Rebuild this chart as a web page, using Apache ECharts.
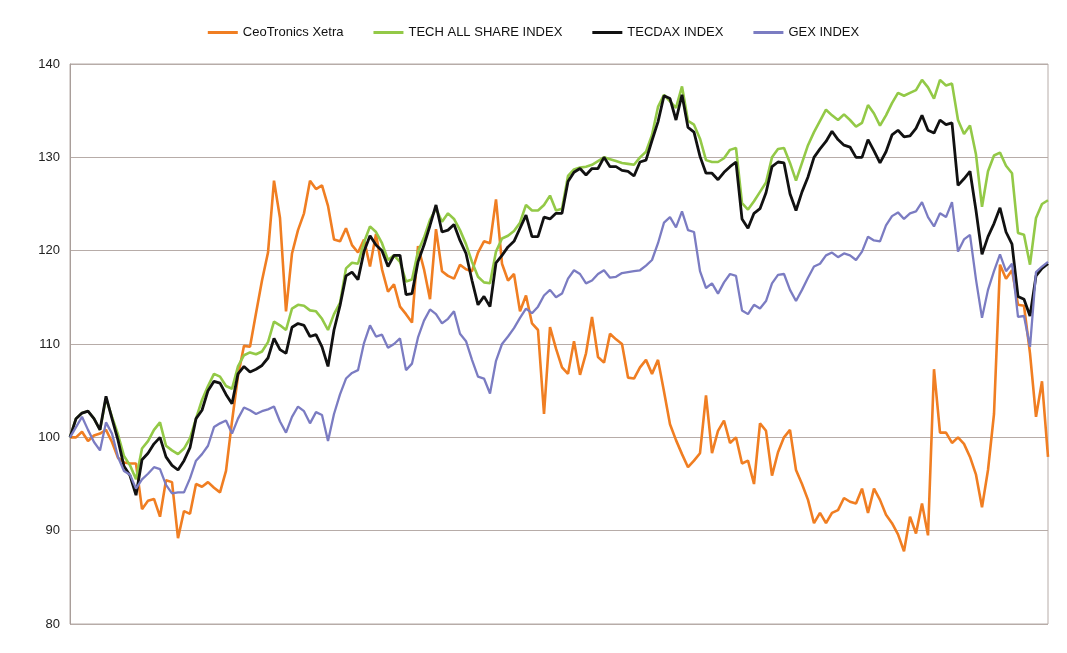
<!DOCTYPE html>
<html>
<head>
<meta charset="utf-8">
<title>CeoTronics vs. Indizes</title>
<script src="https://cdn.jsdelivr.net/npm/echarts@6/dist/echarts.min.js"></script>
<style>
html, body { margin: 0; padding: 0; background: #fff; }
#chart { width: 1067px; height: 653px; }
</style>
</head>
<body>
<div id="chart"></div>
<script>
// series names (legend order)
var names = ['CeoTronics Xetra', 'TECH ALL SHARE INDEX', 'TECDAX INDEX', 'GEX INDEX'];
var colors = ['#f07e22', '#93c947', '#111111', '#7b7cc2'];

// y axis ticks
var yTicks = [80, 90, 100, 110, 120, 130, 140];

// values, indexed to 100 at start
var ceotronics = [100, 100, 100.6, 99.6, 100.2, 100.4, 100.8, 99.5, 97.8, 97.3,
  97.2, 97.2, 92.3, 93.2, 93.4, 91.5, 95.4, 95.2, 89.2, 92.1,
  91.8, 95, 94.7, 95.2, 94.6, 94.1, 96.4, 101.7, 106.6, 109.8,
  109.7, 113.3, 116.8, 119.8, 127.5, 123.5, 113.5, 119.7, 122.2, 124,
  127.5, 126.6, 127, 124.8, 121.2, 121, 122.4, 120.6, 119.8, 121.2,
  118.3, 121.8, 118, 115.6, 116.4, 114, 113.2, 112.3, 120.5, 118,
  114.8, 122.3, 117.8, 117.3, 117, 118.5, 118, 117.8, 119.8, 121,
  120.8, 125.5, 118.6, 116.8, 117.5, 113.5, 115.2, 112.2, 111.5, 102.5,
  111.8, 109.5, 107.5, 106.8, 110.3, 106.7, 109, 112.9, 108.6, 108,
  111.1, 110.5, 110, 106.4, 106.3, 107.5, 108.3, 106.8, 108.3, 104.9,
  101.4, 99.7, 98.2, 96.8, 97.5, 98.3, 104.5, 98.3, 100.7, 101.8,
  99.4, 100, 97.2, 97.5, 95, 101.5, 100.7, 95.9, 98.4, 100,
  100.8, 96.5, 95, 93.3, 90.8, 91.9, 90.8, 91.9, 92.2, 93.5,
  93.1, 92.9, 94.5, 91.9, 94.5, 93.3, 91.7, 90.8, 89.6, 87.8,
  91.5, 89.7, 92.9, 89.5, 107.3, 100.5, 100.5, 99.4, 100, 99.3,
  97.9, 96, 92.5, 96.5, 102.5, 118.5, 117, 117.9, 114.2, 114.1,
  109, 102.2, 106, 97.9];

var techAllShare = [100, 102, 102.6, 102.8, 102, 100.8, 104.2, 102.2, 100.3, 98,
  97, 95.5, 98.8, 99.6, 100.8, 101.6, 99.1, 98.6, 98.2, 98.8,
  99.9, 102, 104, 105.5, 106.8, 106.5, 105.5, 105.2, 107.6, 108.8,
  109.1, 108.9, 109.2, 110.2, 112.4, 112, 111.5, 113.8, 114.2, 114.1,
  113.6, 113.5, 112.7, 111.5, 113.2, 114.4, 118.1, 118.7, 118.6, 120.9,
  122.6, 122, 120.8, 119, 119.5, 118.8, 116.7, 116.9, 119.9, 121.4,
  123.3, 124.5, 123.1, 124, 123.4, 122.2, 120.7, 118.8, 117.2, 116.6,
  116.5, 119.9, 121.3, 121.6, 122.1, 123, 124.9, 124.3, 124.3, 124.9,
  125.9, 124.3, 124.5, 128, 128.7, 128.9, 129, 129.2, 129.6, 130,
  129.8, 129.6, 129.4, 129.3, 129.2, 130, 130.6, 132.4, 135.4, 136.7,
  136, 135.3, 137.6, 133.9, 133.5, 132, 129.7, 129.5, 129.5, 129.9,
  130.8, 131, 125.1, 124.4, 125.3, 126.3, 127.3, 130, 130.9, 131,
  129.4, 127.5, 129.4, 131.3, 132.7, 133.9, 135.1, 134.5, 134, 134.6,
  134, 133.3, 133.7, 135.6, 134.7, 133.4, 134.5, 135.8, 136.9, 136.6,
  136.9, 137.2, 138.3, 137.5, 136.3, 138.3, 137.7, 137.9, 134, 132.5,
  133.4, 130.3, 124.7, 128.5, 130.2, 130.5, 129.1, 128.3, 121.9, 121.7,
  118.5, 123.5, 125, 125.4];

var tecdax = [100, 102, 102.6, 102.8, 102, 100.8, 104.4, 102, 99.7, 96.9,
  95.9, 93.8, 97.6, 98.3, 99.3, 100, 97.9, 97, 96.5, 97.5,
  98.9, 102, 102.9, 105, 106, 105.8, 104.6, 103.6, 106.8, 107.6,
  107, 107.3, 107.7, 108.5, 110.6, 109.4, 109, 111.8, 112.2, 112,
  110.8, 111, 109.7, 107.6, 111.5, 114.1, 117.3, 117.7, 116.9, 119.9,
  121.6, 120.6, 120, 118.3, 119.5, 119.5, 115.3, 115.4, 118.8, 120.6,
  122.7, 124.9, 122, 122.2, 122.8, 121.1, 119.7, 116.8, 114.2, 115.1,
  114, 118.7, 119.5, 120.4, 121, 122.4, 123.8, 121.5, 121.5, 123.6,
  123.4, 124, 124, 127.4, 128.4, 128.8, 128.1, 128.8, 128.8, 130,
  129, 129, 128.6, 128.5, 128, 129.5, 129.7, 131.8, 133.8, 136.6,
  136.3, 134, 136.7, 133.2, 132.7, 130.1, 128.3, 128.3, 127.6, 128.4,
  129, 129.5, 123.4, 122.4, 124, 124.5, 126.2, 129, 129.5, 129.4,
  126.1, 124.3, 126.3, 127.9, 130, 130.9, 131.7, 132.8, 131.9, 131.3,
  131.1, 130, 130, 131.9, 130.7, 129.4, 130.6, 132.4, 132.9, 132.2,
  132.3, 133.1, 134.5, 132.9, 132.6, 134, 133.5, 133.7, 127, 127.7,
  128.5, 124.3, 119.6, 121.5, 122.9, 124.6, 122, 120.7, 115.1, 114.8,
  113, 117.3, 118.1, 118.6];

var gex = [100, 101.1, 102.2, 100.8, 99.5, 98.6, 101.6, 100.4, 97.9, 96.4,
  96, 94.5, 95.5, 96.1, 96.8, 96.6, 94.9, 94, 94.1, 94.1,
  95.6, 97.5, 98.2, 99.1, 101.1, 101.5, 101.8, 100.4, 102, 103.2,
  102.9, 102.5, 102.8, 103, 103.3, 101.7, 100.5, 102.2, 103.3, 102.8,
  101.5, 102.7, 102.4, 99.6, 102.5, 104.6, 106.3, 106.9, 107.2, 110.1,
  112, 110.8, 111, 109.6, 110, 110.6, 107.2, 107.9, 110.7, 112.5,
  113.7, 113.2, 112.2, 112.7, 113.5, 111.1, 110.3, 108.3, 106.5, 106.3,
  104.7, 108.2, 110, 110.8, 111.7, 112.8, 113.8, 113.3, 114, 115.2,
  115.8, 115, 115.4, 117, 117.9, 117.5, 116.5, 116.8, 117.5, 117.9,
  117.1, 117.2, 117.6, 117.7, 117.8, 117.9, 118.4, 119, 120.8, 123,
  123.6, 122.5, 124.2, 122.2, 122, 117.8, 116, 116.5, 115.4, 116.6,
  117.5, 117.3, 113.6, 113.2, 114.2, 113.8, 114.6, 116.5, 117.4, 117.5,
  115.8, 114.6, 115.8, 117.1, 118.3, 118.6, 119.5, 119.8, 119.3, 119.7,
  119.5, 119, 119.9, 121.5, 121.1, 121, 122.7, 123.7, 124.1, 123.4,
  124, 124.2, 125.2, 123.6, 122.6, 124, 123.6, 125.2, 119.9, 121.2,
  121.7, 116.9, 112.8, 115.8, 117.8, 119.6, 117.8, 118.6, 112.9, 113,
  109.7, 117.7, 118.3, 118.8];

// trading days (no labels shown on the x axis)
var days = [];
for (var i = 0; i < ceotronics.length; i++) {
  days.push(i + 1);
}

var dom = document.getElementById('chart');
var myChart = echarts.init(dom);

var seriesData = [ceotronics, techAllShare, tecdax, gex];
var widths = [2.6, 2.6, 2.8, 2.3];

var series = [];
for (var s = 0; s < names.length; s++) {
  series.push({
    name: names[s],
    type: 'line',
    data: seriesData[s],
    showSymbol: false,
    symbol: 'none',
    animation: false,
    lineStyle: { color: colors[s], width: widths[s] },
    itemStyle: { color: colors[s] }
  });
}

var option = {
  backgroundColor: '#ffffff',
  color: colors,
  legend: {
    data: names,
    top: 21,
    left: 'center',
    icon: 'rect',
    itemWidth: 30,
    itemHeight: 3,
    itemGap: 30,
    textStyle: {
      fontFamily: '"Liberation Sans Narrow", "Liberation Sans", Arial, sans-serif',
      fontSize: 13,
      color: '#111'
    }
  },
  grid: {
    left: 70,
    right: 19,
    top: 64,
    bottom: 29,
    show: true,
    borderColor: '#b7aca8',
    borderWidth: 1,
    backgroundColor: '#ffffff'
  },
  xAxis: {
    type: 'category',
    data: days,
    boundaryGap: false,
    axisLine: { show: false },
    axisTick: { show: false },
    axisLabel: { show: false },
    splitLine: { show: false }
  },
  yAxis: {
    type: 'value',
    min: yTicks[0],
    max: yTicks[yTicks.length - 1],
    interval: 10,
    axisLine: { show: true, lineStyle: { color: '#a99e9a', width: 1 } },
    axisTick: { show: false },
    axisLabel: {
      margin: 10,
      fontFamily: '"Liberation Sans", Arial, sans-serif',
      fontSize: 13,
      color: '#222'
    },
    splitLine: { show: true, lineStyle: { color: '#b7aca8', width: 1 } }
  },
  series: series
};

myChart.setOption(option, true);
</script>
</body>
</html>
